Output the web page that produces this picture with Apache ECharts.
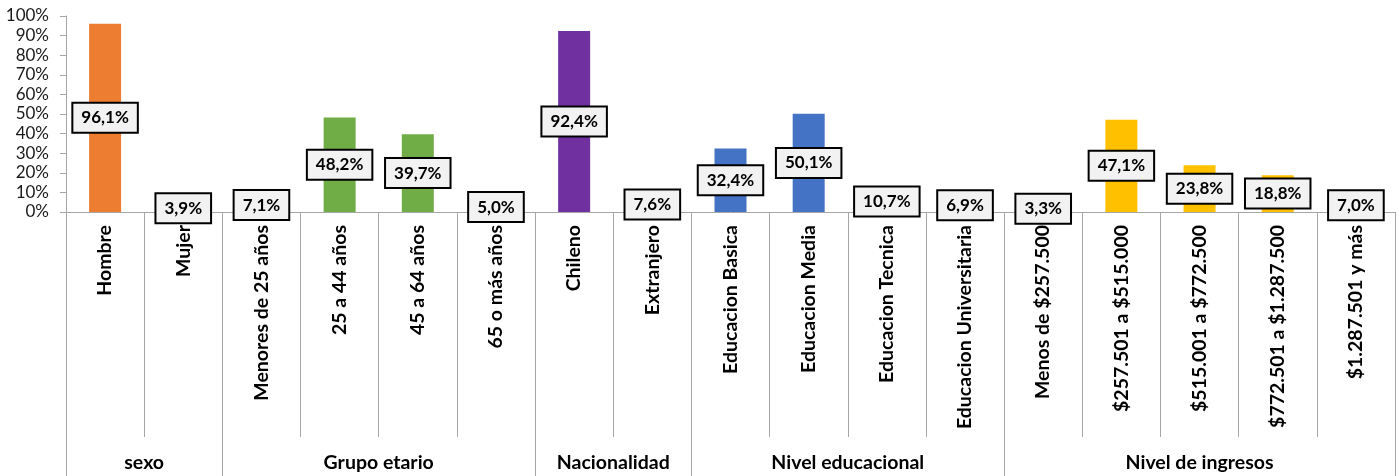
<!DOCTYPE html>
<html>
<head>
<meta charset="utf-8">
<script src="https://cdn.jsdelivr.net/npm/echarts@6/dist/echarts.min.js"></script>
<style>
  html, body { margin: 0; padding: 0; background: #fff; }
  #chart { width: 1398px; height: 476px; }
</style>
</head>
<body>
<div id="chart"></div>
<script>
// Categories, grouped left to right
const categories = [
  'Hombre', 'Mujer',
  'Menores de 25 años', '25 a 44 años', '45 a 64 años', '65 o más años',
  'Chileno', 'Extranjero',
  'Educacion Basica', 'Educacion Media', 'Educacion Tecnica', 'Educacion Universitaria',
  'Menos de $257.500', '$257.501 a $515.000', '$515.001 a $772.500', '$772.501 a $1.287.500', '$1.287.501 y más'
];
const values = [96.1, 3.9, 7.1, 48.2, 39.7, 5.0, 92.4, 7.6, 32.4, 50.1, 10.7, 6.9, 3.3, 47.1, 23.8, 18.8, 7.0];
const groupNames = ['sexo', 'Grupo etario', 'Nacionalidad', 'Nivel educacional', 'Nivel de ingresos'];
const groupSizes = [2, 4, 2, 4, 5];
const groupColors = ['#ED7D31', '#70AD47', '#7030A0', '#4472C4', '#FFC000'];
const yTicks = [0, 10, 20, 30, 40, 50, 60, 70, 80, 90, 100];

// colour of each bar follows its group
const barColors = [];
groupSizes.forEach((n, g) => { for (let i = 0; i < n; i++) barColors.push(groupColors[g]); });

// group axis: points every half category (boundaryGap false), labels at group centres,
// ticks at group boundaries
const halfSteps = categories.length * 2 + 1;
const groupAxisData = new Array(halfSteps).fill('');
const groupBoundaries = new Set([0]);
let start = 0;
groupSizes.forEach((n, g) => {
  groupAxisData[start * 2 + n] = groupNames[g];
  start += n;
  groupBoundaries.add(start * 2);
});

const fmt = v => v.toFixed(1).replace('.', ',') + '%';
const FONT = 'Lato';
const LINE = '#a6a6a6';

const chart = echarts.init(document.getElementById('chart'));
chart.setOption({
  animation: false,
  grid: { left: 66, right: 2, top: 16, bottom: 264, containLabel: false },
  xAxis: [
    {
      type: 'category',
      data: categories,
      axisLine: { lineStyle: { color: LINE, width: 1 } },
      axisTick: { show: true, interval: 0, length: 225, lineStyle: { color: LINE, width: 1 } },
      axisLabel: {
        interval: 0, rotate: 90, margin: 13,
        fontFamily: FONT, fontWeight: 'bold', fontSize: 19.5, color: '#000'
      }
    },
    {
      type: 'category',
      position: 'bottom',
      offset: 225,
      boundaryGap: false,
      data: groupAxisData,
      axisLine: { show: false },
      axisTick: {
        show: true, length: 39,
        interval: idx => groupBoundaries.has(idx),
        lineStyle: { color: LINE, width: 1 }
      },
      axisLabel: {
        interval: 0, margin: 16,
        fontFamily: FONT, fontWeight: 'bold', fontSize: 19.5, color: '#000'
      }
    }
  ],
  yAxis: {
    type: 'value',
    min: yTicks[0], max: yTicks[yTicks.length - 1], interval: 10,
    splitLine: { show: false },
    axisLine: { show: true, lineStyle: { color: LINE, width: 1 } },
    axisTick: { show: true, length: 6, lineStyle: { color: LINE } },
    axisLabel: {
      formatter: '{value}%', margin: 17,
      fontFamily: FONT, fontSize: 17, color: '#1a1a1a'
    }
  },
  series: [{
    type: 'bar',
    xAxisIndex: 0,
    barWidth: 32,
    data: values.map((v, i) => ({ value: v, itemStyle: { color: barColors[i] } })),
    label: {
      show: true,
      position: 'inside',
      formatter: p => fmt(p.value),
      fontFamily: FONT, fontWeight: 'bold', fontSize: 17, color: '#000',
      backgroundColor: '#f2f2f2',
      borderColor: '#000', borderWidth: 2,
      padding: [6, 8, 5, 8]
    }
  }]
});
</script>
</body>
</html>
